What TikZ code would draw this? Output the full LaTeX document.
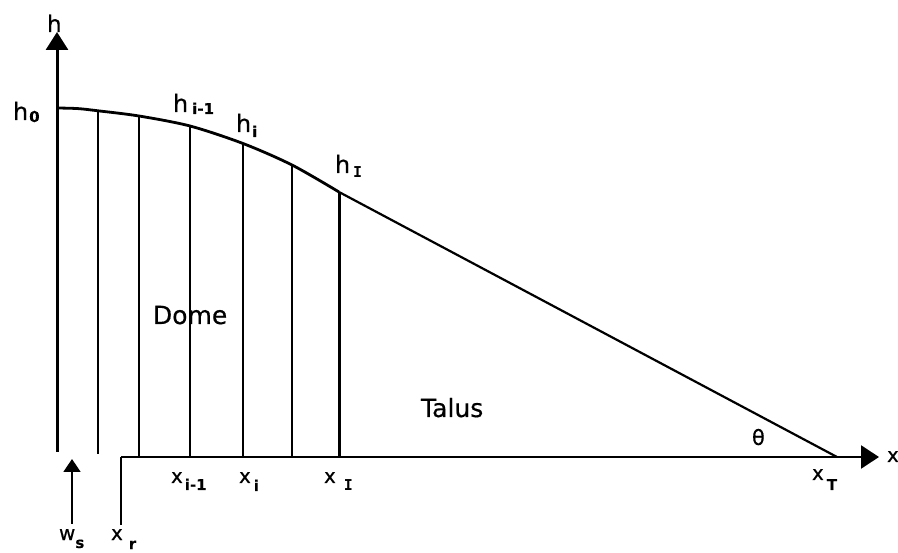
\documentclass[tikz,border=0pt]{standalone}
\usepackage{fontspec}
\setmainfont[FakeBold=0.5]{DejaVu Sans}
\newfontfamily\subfont[FakeBold=0.3]{DejaVu Sans Bold}
\newfontfamily\subserif{DejaVu Sans Mono Bold}
\usetikzlibrary{arrows.meta}
\newcommand{\hsz}{\fontsize{24}{24}\selectfont}
\newcommand{\xsz}{\fontsize{20}{20}\selectfont}
\newcommand{\subsz}{\fontsize{15}{15}\selectfont}
% #1 size cmd, #2 main, #3 sub, #4 drop, #5 kern
\newcommand{\lbl}[5]{{#1#2}\kern#5pt\raisebox{-#4pt}{\subsz\subfont #3}}
\newcommand{\lblI}[5]{{#1#2}\kern#5pt\raisebox{-#4pt}{\subsz\subserif #3}}
\begin{document}
\begin{tikzpicture}[x=1pt,y=-1pt,
  txt/.style={inner sep=0pt,outer sep=0pt,anchor=base west},
  axis/.style={line width=3pt},
  thin/.style={line width=1.3pt}]
\useasboundingbox (0,0) rectangle (898,553);
% coordinates
\coordinate (o) at (57,452);
\coordinate (htip) at (57,32);
\coordinate (xs) at (121,457);
\coordinate (xtip) at (879,457);
\coordinate (xr) at (121,525);
\coordinate (p1) at (98,110.8);
\coordinate (p2) at (139,116);
\coordinate (p3) at (190,126);
\coordinate (p4) at (243,143.5);
\coordinate (p5) at (292,165);
\coordinate (pI) at (339,192);
\coordinate (xT) at (837,457);
\coordinate (b1) at (98,454);
\coordinate (b2) at (139,457);
\coordinate (b3) at (190,457);
\coordinate (b4) at (243,457);
\coordinate (b5) at (292,457);
\coordinate (bI) at (339,457);
\coordinate (wsb) at (72,524);
\coordinate (wst) at (72,459);
% axes
\draw[axis,-{Triangle[length=18pt,width=22pt]}] (o) -- (htip);
\draw[line width=2.5pt,-{Triangle[length=18pt,width=23pt]}] (xs) -- (xtip);
\draw[line width=1.6pt] (xs) -- (xr);
\draw[line width=1.6pt,-{Triangle[length=13pt,width=17pt]}] (wsb) -- (wst);
% dome curve
\draw[line width=2.8pt,line join=round] plot[smooth,tension=0.5] coordinates {(57,108) (78,108.6) (98,110.8) (139,116) (190,126) (243,143.5) (292,165) (339,192)};
\draw[line width=2.2pt] (pI) -- (xT);
% verticals
\draw[thin] (p1) -- (b1);
\draw[thin] (p2) -- (b2);
\draw[thin] (p3) -- (b3);
\draw[thin] (p4) -- (b4);
\draw[thin] (p5) -- (b5);
\draw[line width=3pt] (pI) -- (bI);
% labels
\node[txt] (lh) at (47,32) {\fontsize{23}{23}\selectfont h};
\node[txt] (lh0) at (13,120) {\lbl{\hsz}{h}{0}{2}{1}};
\node[txt] (lhim) at (173,112) {\lbl{\hsz}{h}{i-1}{2}{4}};
\node[txt] (lhi) at (236,132) {\lbl{\hsz}{h}{i}{5}{1}};
\node[txt] (lhI) at (335,173) {\lblI{\hsz}{h}{I}{5}{3}};
\node[txt] (ldome) at (153,324) {\fontsize{25}{25}\selectfont Dome};
\node[txt] (ltalus) at (421,417) {\fontsize{25}{25}\selectfont Talus};
\node[txt] (ltheta) at (752,445) {\fontsize{21}{21}\selectfont θ};
\node[txt] (lxim) at (171,483) {\lbl{\xsz}{x}{i-1}{7}{2}};
\node[txt] (lxi) at (239,483) {\lbl{\xsz}{x}{i}{8}{3}};
\node[txt] (lxI) at (324,483) {\lblI{\xsz}{x}{I}{8}{8}};
\node[txt] (lxT) at (812,480) {\lbl{\xsz}{x}{T}{10}{3}};
\node[txt] (lx) at (887,462) {\xsz x};
\node[txt] (lws) at (59,540) {\lbl{\xsz}{w}{s}{8}{0}};
\node[txt] (lxr) at (111,540) {\lbl{\xsz}{x}{r}{9}{6}};
\end{tikzpicture}
\end{document}
